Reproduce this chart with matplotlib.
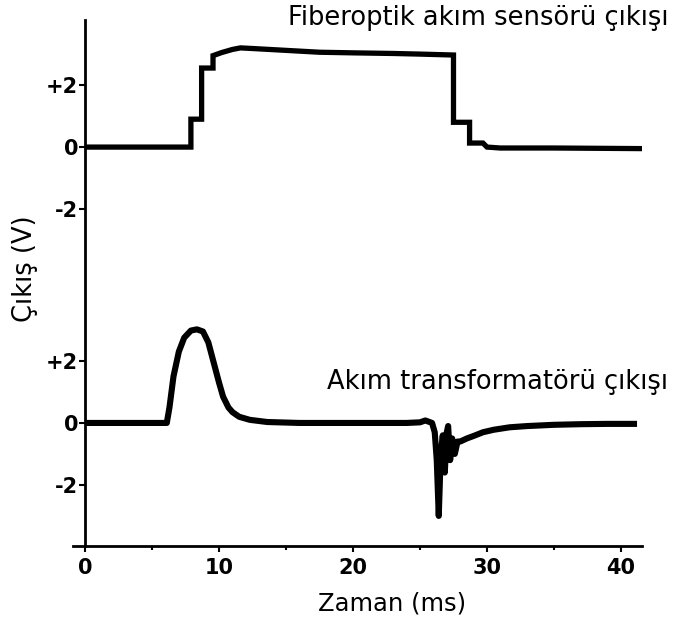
import matplotlib
matplotlib.use("Agg")
import matplotlib.pyplot as plt
from matplotlib import font_manager

# ---- data ----
# Fiber-optic current sensor output (V) vs time (ms)
fo_t = [0, 7.9, 7.9, 8.7, 8.7, 9.55, 9.55, 10.2, 11.0, 11.6, 12.5, 15, 17.5,
        20, 23, 25, 27.5, 27.5, 28.7, 28.7, 29.7, 30.0, 31, 35, 41.8]
fo_v = [0, 0, 0.9, 0.9, 2.55, 2.55, 2.95, 3.05, 3.15, 3.2, 3.18, 3.12, 3.06,
        3.04, 3.02, 3.0, 2.97, 0.8, 0.8, 0.13, 0.13, 0.0, -0.03, -0.03, -0.05]

# Current transformer output (V) vs time (ms)
ct_t = [0, 6.1, 6.3, 6.6, 7.0, 7.4, 7.9, 8.35, 8.8, 9.2, 9.6, 10.0, 10.3, 10.7,
        11.0, 11.5, 12.3, 13.6, 16, 20, 24, 25.0, 25.4, 25.9, 26.1, 26.25, 26.4,
        26.55, 26.7, 26.85, 27.0, 27.1, 27.25, 27.4, 27.6, 27.8, 28.0, 28.5,
        29.0, 29.7, 30.5, 31.7, 33, 35, 37, 39, 41.2]
ct_v = [0, 0, 0.5, 1.5, 2.3, 2.75, 2.98, 3.02, 2.95, 2.6, 1.95, 1.3, 0.85, 0.5,
        0.35, 0.2, 0.1, 0.03, 0, 0, 0, 0.02, 0.08, 0.0, -0.3, -1.2, -3.0,
        -1.0, -0.4, -1.6, -0.3, -0.1, -1.2, -0.5, -1.0, -0.6, -0.6, -0.5,
        -0.42, -0.3, -0.22, -0.14, -0.1, -0.06, -0.04, -0.03, -0.03]

y_tick_values = [-2, 0, 2]
y_tick_labels = ["-2", "0", "+2"]
x_tick_values = [0, 10, 20, 30, 40]
x_tick_labels = ["0", "10", "20", "30", "40"]

label_top = "Fiberoptik akım sensörü çıkışı"
label_bottom = "Akım transformatörü çıkışı"
xlabel = "Zaman (ms)"
ylabel = "Çıkış (V)"

# ---- layout ----
TOP_OFFSET = 8.9  # vertical offset of the upper trace (V)

avail = {f.name for f in font_manager.fontManager.ttflist}
tick_family = "Liberation Sans Narrow" if "Liberation Sans Narrow" in avail else "DejaVu Sans"

fig = plt.figure(figsize=(6.75, 6.28), dpi=100)
ax = fig.add_axes([73 / 675, 1 - 546 / 628, (642.4 - 73) / 675, (546 - 20) / 628])

ax.plot(fo_t, [v + TOP_OFFSET for v in fo_v], color="black", lw=3.8,
        solid_joinstyle="miter", solid_capstyle="butt")
ax.plot(ct_t, ct_v, color="black", lw=4.4,
        solid_joinstyle="round", solid_capstyle="butt")

ax.set_xlim(-0.9, 41.6)
ax.set_ylim(-3.97, 13.0)

for s in ["top", "right"]:
    ax.spines[s].set_visible(False)
ax.spines["left"].set_position(("data", 0))
ax.spines["left"].set_linewidth(2.0)
ax.spines["bottom"].set_linewidth(2.0)

yt = y_tick_values + [v + TOP_OFFSET for v in y_tick_values]
ax.set_yticks(yt)
ax.set_yticklabels(y_tick_labels + y_tick_labels)
ax.set_xticks(x_tick_values)
ax.set_xticklabels(x_tick_labels)
ax.set_xticks([5, 15, 25, 35], minor=True)

for lab in ax.get_yticklabels() + ax.get_xticklabels():
    lab.set_fontfamily(tick_family)
    lab.set_fontweight("bold")
    lab.set_fontsize(15)
ax.tick_params(axis="y", direction="out", length=4, width=1.5, pad=1)
ax.tick_params(axis="x", which="major", direction="out", length=4, width=1.5, pad=5)
ax.tick_params(axis="x", which="minor", direction="out", length=3, width=1.5)

fig.text(668 / 675, 1 - 18 / 628, label_top, ha="right", va="center",
         fontsize=18.5, family="DejaVu Sans")
fig.text(668 / 675, 1 - 382 / 628, label_bottom, ha="right", va="center",
         fontsize=18.5, family="DejaVu Sans")
fig.text(392 / 675, 1 - 604 / 628, xlabel, ha="center", va="center",
         fontsize=17.5, family="DejaVu Sans")
fig.text(25 / 675, 1 - 269 / 628, ylabel, ha="center", va="center",
         rotation=90, fontsize=18.5, family="DejaVu Sans")

fig.savefig("out.png", dpi=100)
